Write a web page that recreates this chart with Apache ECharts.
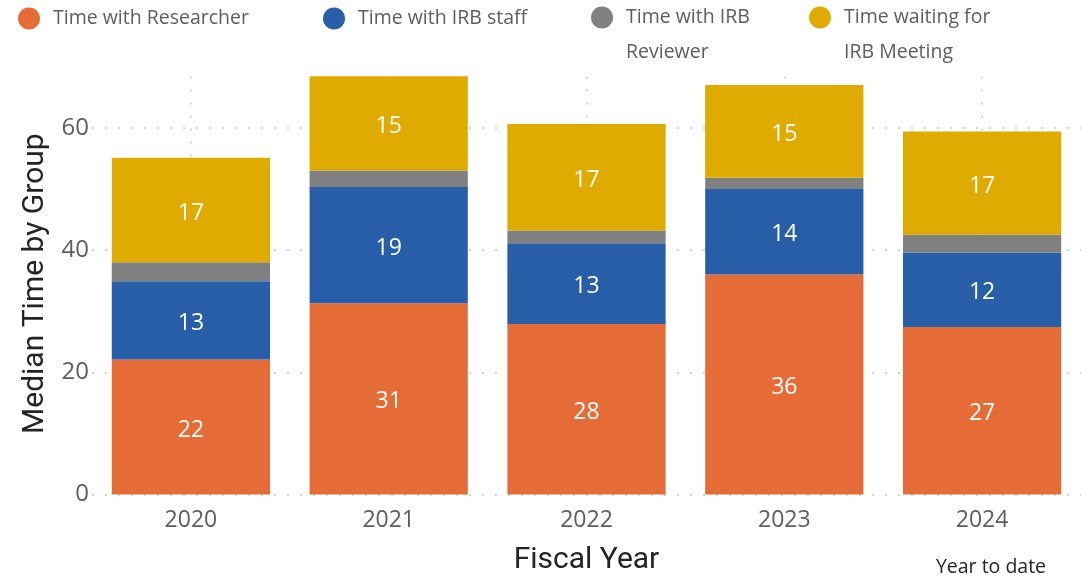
<!DOCTYPE html>
<html>
<head>
<meta charset="utf-8">
<script src="https://cdn.jsdelivr.net/npm/echarts@6/dist/echarts.min.js"></script>
<style>
  html, body { margin: 0; padding: 0; background: #ffffff; }
  #chart { width: 1081px; height: 578px; }
</style>
</head>
<body>
<div id="chart"></div>
<script>
// Median days spent in each stage of IRB review, by fiscal year
const categories = ['2020', '2021', '2022', '2023', '2024'];
const researcher = [22.1, 31.3, 27.9, 36.0, 27.4];
const irbStaff = [12.8, 19.0, 13.2, 14.0, 12.2];
const irbReviewer = [3.1, 2.7, 2.1, 1.8, 2.9];
const meetingWait = [17.1, 15.4, 17.4, 15.2, 16.9];

const seriesNames = [
  'Time with Researcher',
  'Time with IRB staff',
  'Time with IRB Reviewer',
  'Time waiting for IRB Meeting'
];
// wrapped legend captions; a leading blank line keeps the first line level with the dot
const legendText = [
  'Time with Researcher',
  'Time with IRB staff',
  '\nTime with IRB\nReviewer',
  '\nTime waiting for\nIRB Meeting'
];
const colors = ['#E66C37', '#285EA8', '#808080', '#DFAB00'];
const yAxisMax = 69;
const yAxisStep = 20;
const xAxisTitle = 'Fiscal Year';
const yAxisTitle = 'Median Time by Group';
const ytdNote = 'Year to date';

const uiFont = '"Open Sans", "Noto Sans", sans-serif';
const titleFont = 'Roboto, "Noto Sans", sans-serif';
const dotted = { type: [2, 11], color: '#C8C6C4', width: 1.5 };

const values = [researcher, irbStaff, irbReviewer, meetingWait];

// one legend per entry so each can sit at its own spot across the top
const legendLefts = [18, 323, 591, 809];
const legends = seriesNames.map((name, i) => {
  const twoLine = legendText[i].indexOf('\n') >= 0;
  return {
    data: [name],
    left: legendLefts[i],
    top: twoLine ? -35 : 1,
    padding: 0,
    icon: 'circle',
    itemWidth: 38,
    itemHeight: 22,
    selectedMode: false,
    formatter: () => legendText[i],
    textStyle: {
      fontFamily: uiFont,
      fontSize: 19.5,
      color: '#605E5C',
      lineHeight: 35
    }
  };
});

const series = seriesNames.map((name, i) => {
  const s = {
    name: name,
    type: 'bar',
    stack: 'total',
    barCategoryGap: '20%',
    data: values[i],
    itemStyle: { color: colors[i] },
    label: {
      show: i !== 2,
      position: 'inside',
      offset: [0, 3],
      color: '#ffffff',
      fontFamily: uiFont,
      fontSize: 23,
      formatter: p => String(Math.round(p.value))
    }
  };
  if (i === 0) {
    // dotted guides through the centre of each year
    s.markLine = {
      silent: true,
      z: 1,
      symbol: ['none', 'none'],
      label: { show: false },
      lineStyle: dotted,
      emphasis: { disabled: true },
      data: categories.map(c => ({ xAxis: c }))
    };
  }
  return s;
});

const chart = echarts.init(document.getElementById('chart'), null, { renderer: 'canvas' });
chart.setOption({
  animation: false,
  color: colors,
  legend: legends,
  grid: { left: 92, right: 0, top: 72.7, bottom: 83.4, containLabel: false, outerBoundsMode: 'none' },
  xAxis: {
    type: 'category',
    data: categories,
    axisLine: { show: false },
    axisTick: { show: false },
    splitLine: { show: false },
    axisLabel: { fontFamily: uiFont, fontSize: 23, color: '#605E5C', margin: 14 },
    name: xAxisTitle,
    nameLocation: 'middle',
    nameGap: 51,
    nameTextStyle: { fontFamily: titleFont, fontSize: 30, color: '#252423' }
  },
  yAxis: {
    type: 'value',
    min: 0,
    max: yAxisMax,
    interval: yAxisStep,
    axisLine: { show: false },
    axisTick: { show: false },
    axisLabel: { fontFamily: uiFont, fontSize: 24, color: '#605E5C', margin: 3, showMaxLabel: false },
    splitLine: { show: true, showMaxLine: false, lineStyle: dotted },
    name: yAxisTitle,
    nameLocation: 'middle',
    nameGap: 40,
    nameTextStyle: { fontFamily: titleFont, fontSize: 30, color: '#252423' }
  },
  graphic: [{
    type: 'text',
    x: 991,
    y: 567,
    style: {
      text: ytdNote,
      align: 'center',
      verticalAlign: 'middle',
      textAlign: 'center',
      textVerticalAlign: 'middle',
      fontFamily: uiFont,
      fontSize: 19.5,
      fill: '#252423'
    }
  }],
  series: series
});
</script>
</body>
</html>
